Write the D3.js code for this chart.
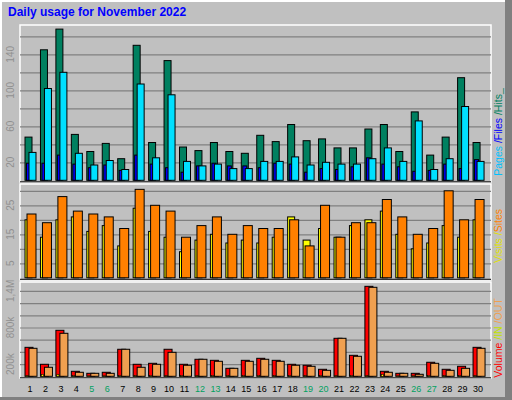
<!DOCTYPE html>
<html><head><meta charset="utf-8">
<script src="https://cdn.jsdelivr.net/npm/d3@7"></script>
<style>body{margin:0;background:#fff}</style>
</head><body><div id="chart"></div>
<script>
var days = d3.range(1, 31);
var weekends = [5, 6, 12, 13, 19, 20, 26, 27];
var hits  = [48,145,168,51,32,41,24,150,42,133,37,33,42,32,30,50,43,62,44,46,36,36,57,62,32,76,28,48,114,42];
var files = [31,102,120,30,17,22,12,107,25,95,21,16,18,13,13,21,21,26,17,20,18,18,24,36,21,66,12,24,82,21];
var pages = [19,19,28,18,14,17,11,28,18,14,9,16,19,16,16,14,19,18,9,13,12,15,25,18,15,10,11,18,13,23];
var visits = [22,19,28,23,22,21,17,30.5,25,23,14,18,21,15,18,17,17,20,11,25,14,19,19,27,21,15,17,30,20,27];
var sites  = [20,14,20,21,16,18,11,24,16,14,9,13,15,12,13,12,14,21,13,17,14,18,20,23,15,10,12,18,14,20];
var volume = [475,197,754,82,49,66,443,197,213,443,197,279,262,131,262,295,262,197,181,115,623,344,1475,82,49,49,230,115,164,475];
var volOut = [459,148,705,66,49,49,443,148,197,393,181,279,246,131,246,279,246,181,164,98,623,328,1459,66,49,33,213,98,131,459];
var volIn  = [10,30,30,10,8,8,10,10,10,10,10,10,10,10,10,10,10,10,10,10,10,10,10,30,8,8,10,10,10,10];
var hitsTicks = [20, 60, 100, 140];
var visitTicks = [5, 15, 25];
var volTicks = [200, 800, 1400];

var W = 512, H = 400;
var svg = d3.select("#chart").append("svg").attr("width", W).attr("height", H)
    .style("font-family", "Liberation Sans, Arial, sans-serif");

// frame
svg.append("rect").attr("width", W).attr("height", H).attr("fill", "#c0c0c0");
svg.append("rect").attr("x", 505).attr("y", 0).attr("width", 7).attr("height", H).attr("fill", "#808080");
svg.append("rect").attr("x", 0).attr("y", 397).attr("width", W).attr("height", 3).attr("fill", "#808080");
svg.append("rect").attr("x", 0).attr("y", 0).attr("width", 2).attr("height", 397).attr("fill", "#fff");
svg.append("rect").attr("x", 0).attr("y", 0).attr("width", 505).attr("height", 2).attr("fill", "#fff");

svg.append("text").attr("x", 8).attr("y", 16).attr("fill", "#0000ff")
    .attr("font-size", 12).attr("font-weight", "bold").text("Daily usage for November 2022");

var x = d3.scaleBand().domain(days).range([23, 486.5]);

var panels = [
  {top: 25, bot: 182, y0: 180.3, ppu: 0.9, grid: d3.range(20, 180, 20)},
  {top: 184, bot: 280, y0: 277.8, ppu: 2.9, grid: [5, 10, 15, 20, 25, 30]},
  {top: 282, bot: 378, y0: 376.3, ppu: 0.061, grid: d3.range(200, 1600, 200)}
];
panels.forEach(function(p){
  p.y = d3.scaleLinear().domain([0, (p.y0 - p.top) / p.ppu]).range([p.y0, p.top]);
  svg.append("rect").attr("x", 20).attr("y", p.top).attr("width", 471).attr("height", p.bot - p.top)
     .attr("fill", "#c0c0c0").attr("stroke", "#fff").attr("stroke-width", 1.5);
  svg.append("g").attr("transform", "translate(20,0)")
     .call(d3.axisRight(p.y).tickValues(p.grid).tickSize(471).tickFormat(""))
     .call(function(g){ g.select(".domain").remove(); g.selectAll("line").attr("stroke", "#808080").attr("stroke-width", 1.2); });
  svg.append("line").attr("x1", 20).attr("x2", 491).attr("y1", p.y0 + 1.5).attr("y2", p.y0 + 1.5).attr("stroke", "#000");
});

function bars(data, p, off, w, fill, sw){
  svg.append("g").selectAll("rect").data(data).enter().append("rect")
    .attr("x", function(d, i){ return x(days[i]) + off; })
    .attr("y", function(d){ return p.y(d); })
    .attr("width", w)
    .attr("height", function(d){ return p.y0 - p.y(d); })
    .attr("fill", fill).attr("stroke", "#000").attr("stroke-width", sw === undefined ? 1 : sw);
}
bars(hits, panels[0], 2, 7, "#008060");
bars(pages, panels[0], 3.5, 4, "#0000ff");
bars(files, panels[0], 6, 7, "#00e0ff");
bars(sites, panels[1], 2, 7, "#ffff00");
bars(visits, panels[1], 4, 9, "#ff8000");
bars(volume, panels[2], 2, 8, "#ff0000");
bars(volIn, panels[2], 3, 2, "#ffff00", 0.5);
bars(volOut, panels[2], 6, 8, "#f0a050");

// y tick labels
function yLabels(ticks, p, fmt){
  svg.append("g").selectAll("text").data(ticks).enter().append("text")
    .attr("transform", function(d){ return "translate(14," + p.y(d) + ") rotate(-90)"; })
    .attr("text-anchor", "middle").attr("font-size", 10).attr("fill", "#909090").text(fmt);
}
yLabels(hitsTicks, panels[0], function(d){ return d; });
yLabels(visitTicks, panels[1], function(d){ return d; });
yLabels(volTicks, panels[2], function(d){ return d >= 1000 ? (d / 1000 + "").replace(".", ",") + "M" : d + "k"; });

// day labels
svg.append("g").selectAll("text").data(days).enter().append("text")
  .attr("x", function(d){ return x(d) + 7; }).attr("y", 392)
  .attr("text-anchor", "middle").attr("font-size", 9)
  .attr("fill", function(d){ return weekends.indexOf(d) >= 0 ? "#00a060" : "#000"; })
  .text(function(d){ return d; });

// right side legends
function legend(cy, parts){
  var t = svg.append("text").attr("transform", "translate(502," + cy + ") rotate(-90)")
    .attr("text-anchor", "middle").attr("font-size", 10.5);
  parts.forEach(function(p){ t.append("tspan").attr("fill", p[1]).text(p[0]); });
}
legend(132, [["Pages", "#00c0ff"], [" /", "#0000ff"], ["Files", "#0000ff"], [" /", "#008060"], ["Hits_", "#008060"]]);
legend(236, [["Visits", "#e0e000"], [" /", "#e0e000"], ["Sites", "#ff8000"]]);
legend(338, [["Volume", "#ff0000"], [" /IN", "#c0e000"], [" /OUT", "#f0a050"]]);
</script></body></html>
